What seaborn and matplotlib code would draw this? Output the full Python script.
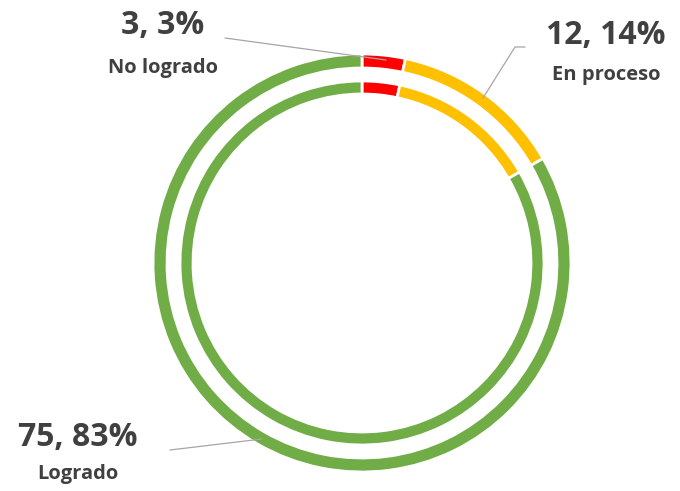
import matplotlib.pyplot as plt
import seaborn as sns

categorias = ['No logrado', 'En proceso', 'Logrado']
valores = [3, 12, 75]
porcentajes = ['3%', '14%', '83%']
colores = ['#FF0000', '#FFC000', '#70AD47']

sns.set_theme(style='white')
plt.rcParams['font.family'] = ['Open Sans', 'DejaVu Sans']

W, H = 680, 491
fig = plt.figure(figsize=(W / 100, H / 100), dpi=100)
ax = fig.add_axes([0, 0, 1, 1])

cx, cy = 362, H - 263
for r, w in [(209, 14), (182, 13)]:
    ax.pie(valores, colors=colores, startangle=90, counterclock=False,
           radius=r, center=(cx, cy), frame=True,
           wedgeprops=dict(width=w, edgecolor='white', linewidth=2))

ax.set_xlim(0, W)
ax.set_ylim(0, H)
ax.set_aspect('equal')
ax.axis('off')

gris = '#404040'
linea = '#A6A6A6'
# posiciones de etiquetas (pixeles)
pos = [(163, 25, 68), (606, 35, 75), (78, 437, 474)]
for cat, v, p, (x, y1, y2) in zip(categorias, valores, porcentajes, pos):
    ax.text(x, H - y1, f'{v}, {p}', ha='center', va='center',
            fontsize=23, fontweight='bold', color=gris)
    ax.text(x, H - y2, cat, ha='center', va='center',
            fontsize=14.5, fontweight='bold', color=gris)

# lineas guia
ax.plot([225, 386], [H - 38, H - 60], color=linea, lw=0.9)
ax.plot([525, 515, 483], [H - 47, H - 47, H - 98], color=linea, lw=0.9)
ax.plot([170, 262], [H - 450, H - 439], color=linea, lw=0.9)

fig.savefig('out.png', dpi=100)
